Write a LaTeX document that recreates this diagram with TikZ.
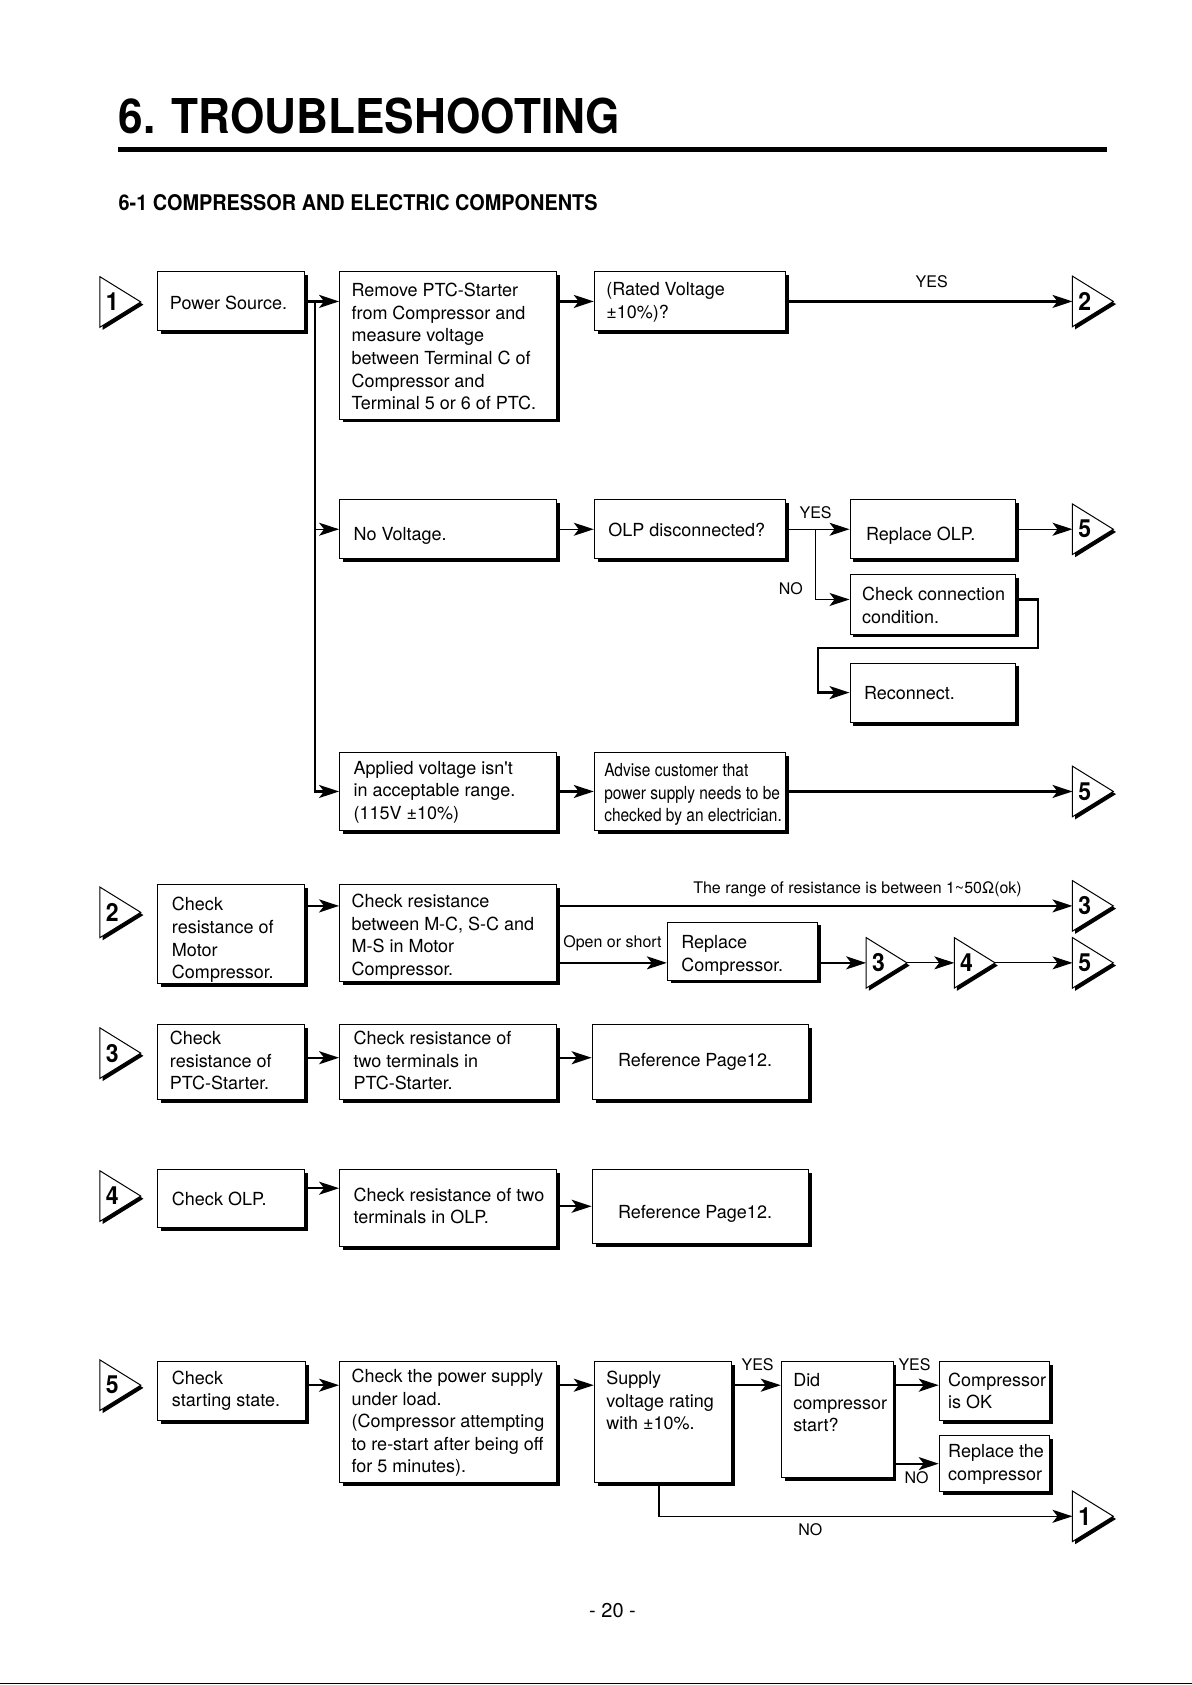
\documentclass[tikz,border=0pt]{standalone}
\usepackage{fontspec}
\setmainfont{TeX Gyre Heros}[Ligatures=TeXOff]
\newfontfamily\headfont{TeX Gyre Heros}[FakeStretch=0.92]
\newfontfamily\condfont{TeX Gyre Heros}[FakeStretch=0.86]
\usetikzlibrary{arrows.meta,shadows,calc}
\def\pxu{0.5374pt}
\def\bxdy{1.6pt}
\tikzset{
  box/.style={draw, fill=white, line width=0.5pt, inner xsep=6pt, inner ysep=0pt,
    font=\fontsize{9}{11.3}\selectfont,
    drop shadow={shadow xshift=1.7pt, shadow yshift=-1.7pt, opacity=1, fill=black}},
  lbl/.style={inner sep=1pt, font=\fontsize{8}{9.6}\selectfont},
  trinum/.style={inner sep=0pt, font=\fontsize{12.5}{12.5}\headfont\bfseries},
  arr/.style={line width=1.1pt, -{Stealth[length=10pt,width=6.5pt,inset=2.5pt]}},
  arrthin/.style={line width=0.55pt, -{Stealth[length=10pt,width=6.5pt,inset=2.5pt]}},
  ln/.style={line width=1.1pt},
  lnthin/.style={line width=0.55pt},
}
\newcommand\bx[7][]{%
  \pgfmathsetlengthmacro\bxw{(#5-#3)*\pxu}%
  \pgfmathsetlengthmacro\bxh{(#6-#4)*\pxu}%
  \pgfmathsetlengthmacro\bxt{(#5-#3)*\pxu-12pt}%
  \node[box, minimum width=\bxw, minimum height=\bxh] (#2) at ({(#3+#5)/2},{(#4+#6)/2})
    {\makebox[\bxt][l]{\raisebox{-\bxdy}[\height][\depth]{#1\begin{tabular}{@{}l@{}}#7\end{tabular}}}};}
\newcommand\conntri[4]{%
  \coordinate (#1) at (#2,#3);
  \coordinate (#1tip) at ({#2+38},#3);
  \fill[black] ({#2+2.5},{#3-21}) -- ({#2+40.5},{#3+2.5}) -- ({#2+2.5},{#3+26}) -- cycle;
  \filldraw[fill=white, draw=black, line width=0.5pt] ({#2},{#3-23.5}) -- (#1tip) -- ({#2},{#3+23.5}) -- cycle;
  \node[trinum] (#1n) at ({#2+11.5},#3) {#4};}
\begin{document}
\begin{tikzpicture}[x=0.5374pt, y=-0.5374pt]
\useasboundingbox (0,0) rectangle (1109,1568);
\fill[white] (0,0) rectangle (1109,1568);

% headings
\node[anchor=base west, inner sep=0pt, font=\fontsize{24}{24}\headfont\bfseries] (title) at (110,124) {6. TROUBLESHOOTING};
\coordinate (r1) at (110,139);
\coordinate (r2) at (1030,139);
\draw[line width=2.15pt] (r1) -- (r2);
\node[anchor=base west, inner sep=0pt, font=\fontsize{10.8}{12}\headfont\bfseries] (sub) at (110,196) {6-1 COMPRESSOR AND ELECTRIC COMPONENTS};

% boxes
\def\bxdy{1.6pt}
\bx{ps}{147}{253}{283}{308}{Power Source.}
\bx{rm}{316}{253}{518}{390}{Remove PTC-Starter\\from Compressor and\\measure voltage\\between Terminal C of\\Compressor and\\Terminal 5 or 6 of PTC.}
\def\bxdy{0.5pt}
\bx{rv}{553}{253}{731}{308}{(Rated Voltage\\±10\%)?}
\def\bxdy{3.2pt}
\bx[\hspace*{1pt}]{nv}{316}{465}{518}{520}{No Voltage.}
\def\bxdy{1.6pt}
\bx[\hspace*{1pt}]{olp}{553}{465}{731}{520}{OLP disconnected?}
\def\bxdy{3.2pt}
\bx[\hspace*{2pt}]{rolp}{791}{465}{945}{520}{Replace OLP.}
\def\bxdy{1.6pt}
\bx{chk}{791}{535}{945}{590}{Check connection\\condition.}
\def\bxdy{1pt}
\bx[\hspace*{1pt}]{rec}{791}{617}{945}{672}{Reconnect.}
\def\bxdy{0.5pt}
\bx[\hspace*{1pt}]{ap}{316}{700}{518}{773}{Applied voltage isn't\\in acceptable range.\\(115V ±10\%)}
\def\bxdy{1.6pt}
\bx[\condfont\hspace*{-1pt}]{adv}{553}{700}{731}{773}{Advise customer that\\power supply needs to be\\checked by an electrician.}
\def\bxdy{3.2pt}
\bx[\hspace*{1pt}]{m1}{147}{823}{283}{915}{Check\\resistance of\\Motor\\Compressor.}
\def\bxdy{2.2pt}
\bx{m2}{316}{823}{518}{913}{Check resistance\\between M-C, S-C and\\M-S in Motor\\Compressor.}
\def\bxdy{2.1pt}
\bx[\hspace*{1pt}]{rc}{621}{858}{761}{912}{Replace\\Compressor.}
\def\bxdy{0.5pt}
\bx{p1}{147}{953}{283}{1023}{Check\\resistance of\\PTC-Starter.}
\bx[\hspace*{1pt}]{p2}{316}{953}{518}{1023}{Check resistance of\\two terminals in\\PTC-Starter.}
\def\bxdy{0pt}
\bx[\hspace*{7pt}]{p3}{551}{953}{752}{1023}{Reference Page12.}
\def\bxdy{1.6pt}
\bx[\hspace*{1pt}]{o1}{147}{1088}{283}{1142}{Check OLP.}
\def\bxdy{0pt}
\bx[\hspace*{1pt}]{o2}{316}{1088}{518}{1160}{Check resistance of two\\terminals in OLP.}
\def\bxdy{3.8pt}
\bx[\hspace*{7pt}]{o3}{551}{1088}{752}{1157}{Reference Page12.}
\def\bxdy{0pt}
\bx[\hspace*{1pt}]{s1}{147}{1267}{284}{1322}{Check\\starting state.}
\def\bxdy{0.5pt}
\bx{s2}{316}{1267}{518}{1380}{Check the power supply\\under load.\\(Compressor attempting\\to re-start after being off\\for 5 minutes).}
\def\bxdy{1.6pt}
\bx{s3}{553}{1267}{681}{1380}{Supply\\voltage rating\\with ±10\%.\\ \\ \\}
\def\bxdy{3.8pt}
\bx{s4}{727}{1267}{831}{1375}{Did\\compressor\\start?\\ \\ \\}
\def\bxdy{1pt}
\bx[\hspace*{-1.5pt}]{s5}{874}{1267}{977}{1322}{Compressor\\is OK}
\def\bxdy{0.5pt}
\bx[\hspace*{-1.5pt}]{s6}{874}{1336}{977}{1388}{Replace the\\compressor}

% connector triangles
\conntri{t1l}{93}{281}{1}
\conntri{t2r}{998}{280.5}{2}
\conntri{t5a}{998}{492.5}{5}
\conntri{t5b}{998}{736.5}{5}
\conntri{t2l}{93}{849}{2}
\conntri{t3r}{998}{843}{3}
\conntri{t3s}{806}{896}{3}
\conntri{t4s}{888}{896}{4}
\conntri{t5c}{998}{896}{5}
\conntri{t3l}{93}{980}{3}
\conntri{t4l}{93}{1113}{4}
\conntri{t5l}{93}{1289}{5}
\conntri{t1r}{998}{1411}{1}

% row 1
\coordinate (tr) at (293,280.5);
\draw[arr] (ps.east) -- (ps.east -| rm.west);
\draw[arr] (tr) |- (ap.west);
\draw[arrthin] (tr |- nv.west) -- (nv.west);
\draw[arr] (rm.east |- rv.west) -- (rv.west);
\draw[arr] (rv.east) -- (t2r);
\node[lbl] (yes1) at (867,262) {YES};

% OLP branch
\draw[arrthin] (nv) -- (olp);
\coordinate (sp) at (759,492.5);
\draw[lnthin] (olp.east) -- (sp);
\draw[arrthin] (sp) -- (rolp.west);
\draw[arrthin] (sp) |- ([yshift=2.5pt]chk.west);
\draw[arrthin] (rolp.east) -- (t5a);
\node[lbl] (yes2) at (759,477) {YES};
\node[lbl] (no2) at (736,548) {NO};
\coordinate (lp1) at (966,603);
\coordinate (lp2) at (761,603);
\draw[arr] ([yshift=2.5pt]chk.east) -| (lp1) -- (lp2) |- (rec.west);

% applied voltage
\draw[arr] (ap) -- (adv);
\draw[arr] (adv.east) -- (t5b);

% section 2
\draw[arr] (m1.east |- t3r) -- (m2.west |- t3r);
\draw[arr] (m2.east |- t3r) -- (t3r);
\node[lbl] (rng) at (798,828) {The range of resistance is between 1\textasciitilde50Ω(ok)};
\draw[arr] (m2.east |- t3s) -- (rc.west |- t3s);
\node[lbl] (oos) at (570,878) {Open or short};
\draw[arr] (rc.east |- t3s) -- (t3s);
\draw[arrthin] (t3stip) -- (t4s);
\draw[arrthin] (t4stip) -- (t5c);

% section 3
\draw[arr] ([yshift=2pt]p1.east) -- ([yshift=2pt]p2.west);
\draw[arr] ([yshift=2pt]p2.east) -- ([yshift=2pt]p3.west);

% section 4
\draw[arr] ([yshift=5pt]o1.east) -- ([yshift=5pt]o1.east -| o2.west);
\draw[arr] (o2.east |- o3.west) -- (o3.west);

% section 5
\draw[arr] (s1.east |- t5l) -- (s2.west |- t5l);
\draw[arr] (s2.east |- t5l) -- (s3.west |- t5l);
\draw[arr] (s3.east |- t5l) -- (s4.west |- t5l);
\draw[arr] (s4.east |- t5l) -- (s5.west |- t5l);
\draw[arr] (s4.east |- s6.west) -- (s6.west);
\draw[arr, line width=0.8pt] ([xshift=-2pt]s3.south) |- (t1r);
\node[lbl] (yes3) at (705,1270) {YES};
\node[lbl] (yes4) at (851,1270) {YES};
\node[lbl] (no4) at (853,1375) {NO};
\node[lbl] (no5) at (754,1423) {NO};

% footer
\node[anchor=base, inner sep=0pt, font=\fontsize{10}{12}\selectfont] (pg) at (570,1505) {- 20 -};
\coordinate (b1) at (0,1566.5);
\coordinate (b2) at (1109,1566.5);
\draw[line width=0.8pt] (b1) -- (b2);
\end{tikzpicture}
\end{document}
